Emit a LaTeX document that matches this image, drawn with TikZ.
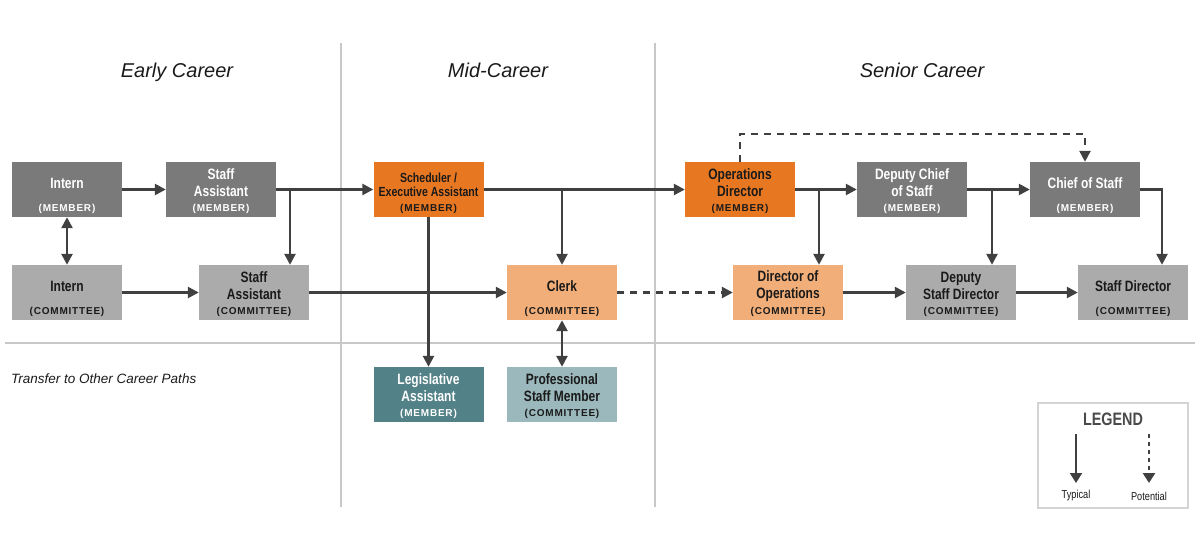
\documentclass[tikz,border=0pt]{standalone}
\usepackage{fontspec}
\setmainfont{Liberation Sans}
\newfontfamily\condfont[FakeStretch=0.8]{Liberation Sans}
\newfontfamily\spacedfont[LetterSpace=8]{Liberation Sans}
\usetikzlibrary{arrows.meta}
\definecolor{boxdark}{HTML}{7A7A7A}
\definecolor{boxlight}{HTML}{ABABAB}
\definecolor{orangedark}{HTML}{E87722}
\definecolor{orangelight}{HTML}{F2AE78}
\definecolor{tealdark}{HTML}{538188}
\definecolor{teallight}{HTML}{9BB8BC}
\definecolor{arrowgray}{HTML}{404040}
\definecolor{rulegray}{HTML}{C8C8C8}
\definecolor{legendgray}{HTML}{D4D4D4}
\definecolor{inkblack}{HTML}{1A1A1A}
\definecolor{legendink}{HTML}{4A4A4A}
\newcommand{\boxtitlefont}{\condfont\bfseries\fontsize{15}{17}\selectfont}
\newcommand{\boxsubfont}{\spacedfont\bfseries\fontsize{10}{12}\selectfont}
\newcommand{\careerbox}[7][]{%
  \node[job, fill=#4] (#2) at (#3) {};
  \node[jobtitle, text=#5, #1] (#2t) at ([yshift=6.5pt]#2.center) {#6};
  \node[jobsub, text=#5] (#2s) at ([yshift=8pt]#2.south) {#7};
}
\tikzstyle{job} = [minimum width=110pt, minimum height=55pt, inner sep=0pt]
\tikzstyle{jobtitle} = [font=\boxtitlefont, align=center, inner sep=0pt]
\tikzstyle{jobsub} = [font=\boxsubfont, inner sep=0pt]
\tikzstyle{heading} = [font=\itshape\fontsize{20}{24}\selectfont, text=inkblack, anchor=base, inner sep=0pt]
\tikzstyle{divider} = [draw=rulegray, line width=1.5pt]
\tikzstyle{typical} = [draw=arrowgray, line width=2.5pt, -{Triangle[length=11pt,width=11pt]}]
\tikzstyle{potential} = [typical, dash pattern=on 7pt off 6pt]
\tikzstyle{both} = [typical, {Triangle[length=11pt,width=11pt]}-{Triangle[length=11pt,width=11pt]}]
\tikzstyle{legendtext} = [font=\condfont\fontsize{11.5}{13}\selectfont, text=inkblack]

\begin{document}
\begin{tikzpicture}[x=1pt, y=-1pt]
  \useasboundingbox (0,0) rectangle (1200,550);
  \draw[divider] (341,43) -- (341,507);
  \draw[divider] (655,43) -- (655,507);
  \draw[divider] (5,343) -- (1195,343);
  \node[heading] (early) at (177,77) {Early Career};
  \node[heading] (mid) at (498,77) {Mid-Career};
  \node[heading] (senior) at (922,77) {Senior Career};
  \node[heading, font=\itshape\fontsize{13.5}{16}\selectfont, anchor=base west] (transfer) at (11,383.5) {Transfer to Other Career Paths};

  \careerbox{im}{67,189.5}{boxdark}{white}{Intern}{(MEMBER)}
  \careerbox{sam}{221,189.5}{boxdark}{white}{Staff\\Assistant}{(MEMBER)}
  \careerbox{ic}{67,292.5}{boxlight}{inkblack}{Intern}{(COMMITTEE)}
  \careerbox{sac}{254,292.5}{boxlight}{inkblack}{Staff\\Assistant}{(COMMITTEE)}
  \careerbox[font=\condfont\bfseries\fontsize{13.2}{14}\selectfont, yshift=-2pt]{sch}{428.5,189.5}{orangedark}{inkblack}{Scheduler /\\Executive Assistant}{(MEMBER)}
  \careerbox{clk}{562,292.5}{orangelight}{inkblack}{Clerk}{(COMMITTEE)}
  \careerbox{la}{428.5,394.5}{tealdark}{white}{Legislative\\Assistant}{(MEMBER)}
  \careerbox{psm}{562,394.5}{teallight}{inkblack}{Professional\\Staff Member}{(COMMITTEE)}
  \careerbox{od}{740,189.5}{orangedark}{inkblack}{Operations\\Director}{(MEMBER)}
  \careerbox{dcs}{912,189.5}{boxdark}{white}{Deputy Chief\\of Staff}{(MEMBER)}
  \careerbox{cos}{1085,189.5}{boxdark}{white}{Chief of Staff}{(MEMBER)}
  \careerbox{doo}{788,292.5}{orangelight}{inkblack}{Director of\\Operations}{(COMMITTEE)}
  \careerbox{dsd}{961,292.5}{boxlight}{inkblack}{Deputy\\Staff Director}{(COMMITTEE)}
  \careerbox{sd}{1133,292.5}{boxlight}{inkblack}{Staff Director}{(COMMITTEE)}

  \coordinate (b1) at (290,189.5);
  \coordinate (b3) at (819,189.5);
  \coordinate (b4) at (992,189.5);
  \coordinate (b5) at (1162,189.5);
  \draw[typical] (im) -- (sam);
  \draw[both] (im) -- (ic);
  \draw[typical] (sam) -- (sch);
  \draw[typical] (b1) -- (b1 |- sac.north);
  \draw[typical] (ic) -- (sac);
  \draw[typical] (sac) -- (clk);
  \draw[typical] (sch) -- (od);
  \draw[typical] (sch.east -| clk) -- (clk);
  \draw[typical] (sch) -- (la);
  \draw[both] (clk) -- (psm);
  \draw[potential] (clk) -- (doo);
  \draw[typical] (od) -- (dcs);
  \draw[typical] (b3) -- (b3 |- doo.north);
  \draw[potential] (od.north) -- ++(0,-28) -| (cos.north);
  \draw[typical] (dcs) -- (cos);
  \draw[typical] (b4) -- (b4 |- dsd.north);
  \draw[typical] (cos.east) -| (b5 |- sd.north);
  \draw[typical] (doo) -- (dsd);
  \draw[typical] (dsd) -- (sd);

  \node[draw=legendgray, line width=1.5pt, minimum width=150pt, minimum height=105pt] (legend) at (1113,455.5) {};
  \node[font=\condfont\bfseries\fontsize{18}{20}\selectfont, text=legendink] (legendtitle) at (1113,419) {LEGEND};
  \coordinate (typtop) at (1076,434);
  \coordinate (typend) at (1076,483);
  \coordinate (pottop) at (1149,434);
  \coordinate (potend) at (1149,483);
  \draw[typical, line width=2pt, -{Triangle[length=10pt,width=12pt]}] (typtop) -- (typend);
  \draw[potential, line width=2.5pt, dash pattern=on 4pt off 4pt, -{Triangle[length=10pt,width=12pt]}] (pottop) -- (potend);
  \node[legendtext] (typlabel) at (1076,496) {Typical};
  \node[legendtext] (potlabel) at (1149,496) {Potential};
\end{tikzpicture}
\end{document}
